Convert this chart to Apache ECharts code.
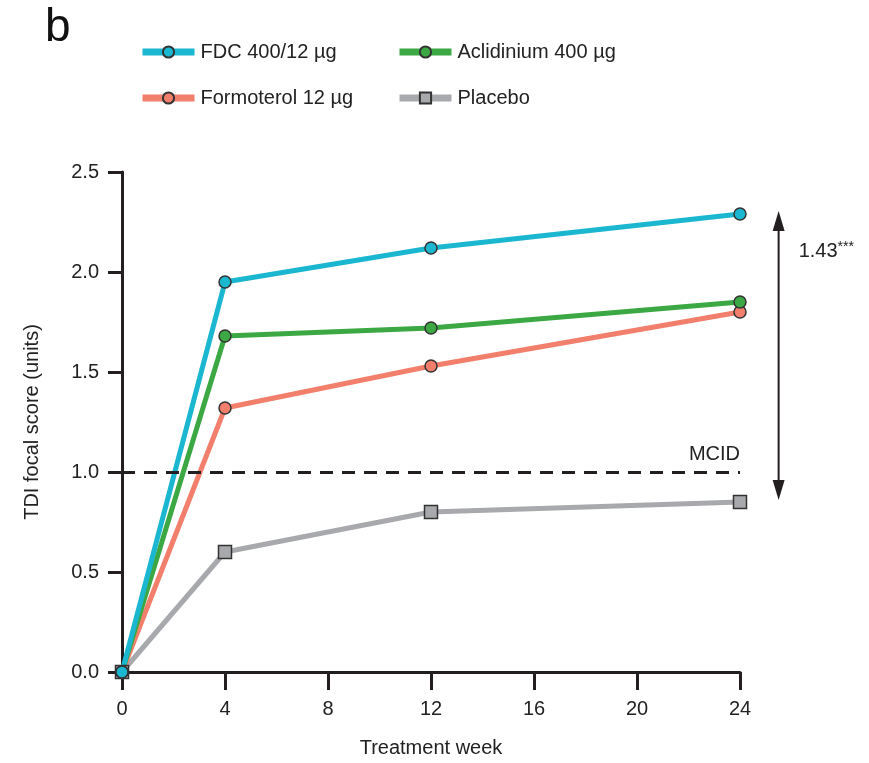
<!DOCTYPE html>
<html>
<head>
<meta charset="utf-8">
<script src="https://cdn.jsdelivr.net/npm/echarts@6/dist/echarts.min.js"></script>
<style>
  html, body { margin: 0; padding: 0; background: #fff; }
  #chart { width: 869px; height: 763px; }
</style>
</head>
<body>
<div id="chart"></div>
<script>
  // treatment weeks and TDI focal scores
  var weeks = [0, 4, 12, 24];
  var fdc = [0, 1.95, 2.12, 2.29];
  var aclidinium = [0, 1.68, 1.72, 1.85];
  var formoterol = [0, 1.32, 1.53, 1.80];
  var placebo = [0, 0.60, 0.80, 0.85];
  var xTicks = [0, 4, 8, 12, 16, 20, 24];
  var mcid = 1.0;
  var diffLabel = '1.43';
  var arrowWeek = 25.5;

  var font = 'Liberation Sans, Arial, Helvetica, sans-serif';
  var dark = '#231f20';

  function pairs(ys) {
    return weeks.map(function (w, i) { return [w, ys[i]]; });
  }

  function lineSeries(name, ys, color, symbol, size) {
    return {
      name: name,
      type: 'line',
      data: pairs(ys),
      symbol: symbol,
      symbolSize: size,
      showAllSymbol: true,
      lineStyle: { color: color, width: 5 },
      itemStyle: { color: color, borderColor: '#333', borderWidth: 1.5 },
      emphasis: { disabled: true },
      z: 3
    };
  }

  function legendAt(name, left, top) {
    return {
      data: [name],
      left: left,
      top: top,
      padding: 0,
      itemWidth: 52,
      itemHeight: 14,
      itemGap: 0,
      selectedMode: false,
      lineStyle: { width: 7 },
      textStyle: { fontFamily: font, fontSize: 20, color: '#222', padding: [0, 0, 0, 1] }
    };
  }

  var chart = echarts.init(document.getElementById('chart'));

  var placeboSeries = lineSeries('Placebo', placebo, '#a8a9ad', 'rect', 13);
  placeboSeries.markLine = {
    silent: true,
    symbol: ['none', 'none'],
    lineStyle: { color: dark, type: [13, 9], width: 3 },
    label: {
      show: true,
      position: 'insideEndTop',
      formatter: 'MCID',
      fontFamily: font,
      fontSize: 20,
      color: '#222',
      distance: [0, 8]
    },
    data: [{ yAxis: mcid }]
  };

  var option = {
    animation: false,
    title: {
      text: 'b',
      left: 40,
      top: 0,
      textStyle: { fontFamily: font, fontSize: 46, fontWeight: 'normal', color: '#111' }
    },
    legend: [
      legendAt('FDC 400/12 µg', 139, 42),
      legendAt('Aclidinium 400 µg', 396, 42),
      legendAt('Formoterol 12 µg', 139, 88),
      legendAt('Placebo', 396, 88)
    ],
    grid: { left: 122, right: 129, top: 172, bottom: 89 },
    xAxis: {
      type: 'value',
      min: 0,
      max: 24,
      interval: 4,
      name: 'Treatment week',
      nameLocation: 'middle',
      nameGap: 66,
      nameTextStyle: { fontFamily: font, fontSize: 20, color: '#222' },
      axisLine: { lineStyle: { color: dark, width: 3 } },
      axisTick: { length: 18, lineStyle: { color: dark, width: 3 } },
      axisLabel: {
        margin: 27,
        fontFamily: font,
        fontSize: 20,
        color: '#222',
        customValues: xTicks
      },
      splitLine: { show: false }
    },
    yAxis: {
      type: 'value',
      min: 0,
      max: 2.5,
      interval: 0.5,
      name: 'TDI focal score (units)',
      nameLocation: 'middle',
      nameGap: 80,
      nameTextStyle: { fontFamily: font, fontSize: 20, color: '#222' },
      axisLine: { show: true, lineStyle: { color: dark, width: 3 } },
      axisTick: { show: true, length: 14, lineStyle: { color: dark, width: 3 } },
      axisLabel: {
        margin: 23,
        fontFamily: font,
        fontSize: 20,
        color: '#222',
        formatter: function (v) { return v.toFixed(1); }
      },
      splitLine: { show: false }
    },
    series: [
      placeboSeries,
      lineSeries('Formoterol 12 µg', formoterol, '#f27f6c', 'circle', 12),
      lineSeries('Aclidinium 400 µg', aclidinium, '#3ba844', 'circle', 12),
      lineSeries('FDC 400/12 µg', fdc, '#1bb6cf', 'circle', 12)
    ]
  };

  chart.setOption(option);

  // double-headed arrow between FDC and placebo at week 24
  var arrowTop = chart.convertToPixel({ seriesIndex: 0 }, [arrowWeek, fdc[fdc.length - 1]]);
  var arrowBottom = chart.convertToPixel({ seriesIndex: 0 }, [arrowWeek, placebo[placebo.length - 1]]);
  var ax = arrowTop[0], y1 = arrowTop[1] - 3, y2 = arrowBottom[1] - 2;
  var head = 20, half = 6;

  chart.setOption({
    graphic: [
      {
        type: 'line',
        shape: { x1: ax, y1: y1 + head - 2, x2: ax, y2: y2 - head + 2 },
        style: { stroke: dark, lineWidth: 2 }
      },
      {
        type: 'polygon',
        shape: { points: [[ax, y1], [ax - half, y1 + head], [ax + half, y1 + head]] },
        style: { fill: dark }
      },
      {
        type: 'polygon',
        shape: { points: [[ax, y2], [ax - half, y2 - head], [ax + half, y2 - head]] },
        style: { fill: dark }
      },
      {
        type: 'text',
        x: ax + 20,
        y: y1 + 40,
        style: {
          text: '{n|' + diffLabel + '}{s|***}',
          rich: {
            n: { fontFamily: font, fontSize: 20, fill: '#222' },
            s: { fontFamily: font, fontSize: 14, fill: '#222', verticalAlign: 'top', padding: [0, 0, 8, 0] }
          },
          verticalAlign: 'middle'
        }
      }
    ]
  });
</script>
</body>
</html>
